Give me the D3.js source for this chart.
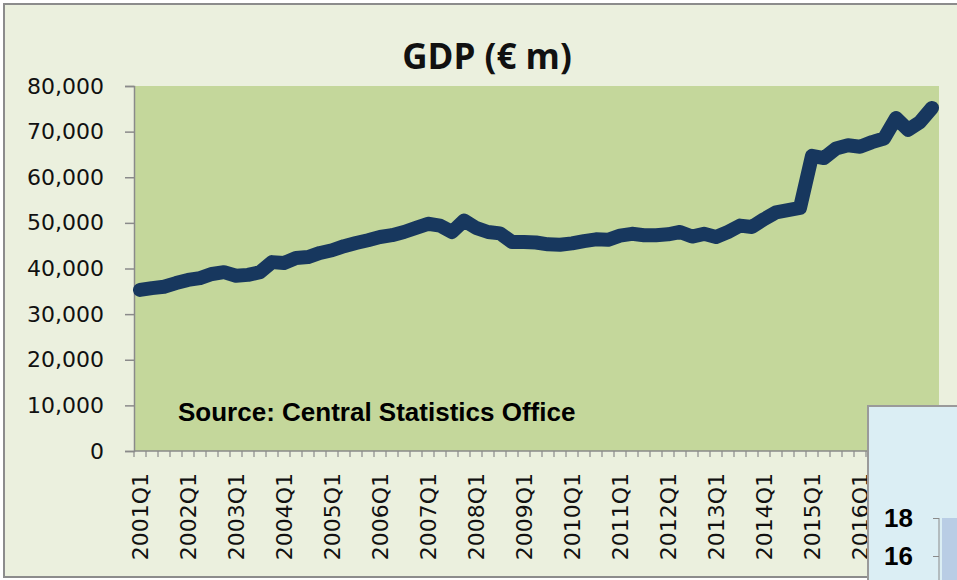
<!DOCTYPE html>
<html>
<head>
<meta charset="utf-8">
<script src="https://cdn.jsdelivr.net/npm/d3@7"></script>
<style>
  body { margin: 0; background: #ffffff; }
  svg { display: block; }
</style>
</head>
<body>
<script>
// quarterly GDP, € m, 2001Q1 .. 2017Q3
var years = d3.range(2001, 2018);
var quarters = [];
years.forEach(function(y) {
    [1, 2, 3, 4].forEach(function(q) {
        if (y < 2017 || q <= 3) quarters.push(y + "Q" + q);
    });
});

var gdp = [
    35300, 35700, 36000, 36800,
    37500, 37900, 38800, 39200,
    38400, 38600, 39200, 41400,
    41200, 42300, 42500, 43400,
    44000, 44900, 45600, 46200,
    46900, 47300, 48000, 48900,
    49800, 49400, 48000, 50500,
    48900, 48000, 47700, 45800,
    45800, 45700, 45300, 45200,
    45500, 46000, 46400, 46300,
    47200, 47600, 47300, 47300,
    47500, 48000, 47000, 47600,
    46900, 48000, 49400, 49100,
    50800, 52300, 52800, 53300,
    64700, 64200, 66300, 67000,
    66700, 67700, 68500, 73000,
    70400, 72100, 75200
];

var yTicks = [0, 10000, 20000, 30000, 40000, 50000, 60000, 70000, 80000];
var xLabels = quarters.filter(function(q) { return /Q1$/.test(q); });

// the neighbouring chart that overlaps the bottom right corner
var otherTicks = [16, 18];
var otherBars = [18];

var width = 957, height = 580;
var plot = { left: 134, top: 86, right: 938, bottom: 451 };

var svg = d3.select("body").append("svg")
    .attr("width", width).attr("height", height);

svg.append("rect")
    .attr("x", 4).attr("y", 4)
    .attr("width", width + 10).attr("height", 573)
    .attr("fill", "#ebf0de")
    .attr("stroke", "#8c8c8c").attr("stroke-width", 2);

svg.append("rect")
    .attr("x", plot.left).attr("y", plot.top)
    .attr("width", plot.right - plot.left + 1).attr("height", plot.bottom - plot.top)
    .attr("fill", "#c4d79b");

svg.append("text")
    .attr("x", 487).attr("y", 69)
    .attr("text-anchor", "middle")
    .style("font-family", "'Open Sans', sans-serif")
    .style("font-weight", "bold")
    .style("font-size", "35px")
    .attr("fill", "#111")
    .text("GDP (€ m)");

var x = d3.scaleBand().domain(quarters).range([plot.left, plot.right]);
var y = d3.scaleLinear().domain([0, 80000]).range([plot.bottom, plot.top]);

var yAxis = d3.axisLeft(y).tickValues(yTicks).tickSize(9).tickPadding(21)
    .tickFormat(d3.format(","));
var gy = svg.append("g").attr("transform", "translate(" + plot.left + ",0)").call(yAxis);
gy.select(".domain").attr("stroke", "#8a8a8a").attr("stroke-width", 1.5);
gy.selectAll(".tick line").attr("stroke", "#8a8a8a").attr("stroke-width", 1.5);
gy.selectAll("text")
    .style("font-family", "'DejaVu Sans', sans-serif")
    .style("font-size", "22px")
    .attr("fill", "#111");

// x axis: a tick at every quarter boundary, a label for every first quarter
var bounds = quarters.map(function(q) { return x(q); }).concat([plot.right]);
var gx = svg.append("g");
gx.append("line")
    .attr("x1", plot.left).attr("x2", plot.right)
    .attr("y1", plot.bottom).attr("y2", plot.bottom)
    .attr("stroke", "#8a8a8a").attr("stroke-width", 1.5);
gx.selectAll("line.tick").data(bounds).enter().append("line")
    .attr("class", "tick")
    .attr("x1", function(d) { return d; }).attr("x2", function(d) { return d; })
    .attr("y1", plot.bottom).attr("y2", plot.bottom + 6)
    .attr("stroke", "#8a8a8a").attr("stroke-width", 1.2);
gx.selectAll("text").data(xLabels).enter().append("text")
    .attr("transform", function(d) {
        return "translate(" + (x(d) + x.bandwidth() / 2) + "," + (plot.bottom + 22) + ") rotate(-90)";
    })
    .attr("dy", "0.36em")
    .attr("text-anchor", "end")
    .style("font-family", "'DejaVu Sans', sans-serif")
    .style("font-size", "22px")
    .attr("fill", "#111")
    .text(function(d) { return d; });

var line = d3.line()
    .x(function(d, i) { return x(quarters[i]) + x.bandwidth() / 2; })
    .y(function(d) { return y(d); });

svg.append("path")
    .datum(gdp)
    .attr("d", line)
    .attr("fill", "none")
    .attr("stroke", "#17375e")
    .attr("stroke-width", 14)
    .attr("stroke-linejoin", "round")
    .attr("stroke-linecap", "round");

svg.append("text")
    .attr("x", 178).attr("y", 421)
    .style("font-family", "'Liberation Sans', Arial, sans-serif")
    .style("font-weight", "bold")
    .style("font-size", "26px")
    .attr("fill", "#000")
    .text("Source: Central Statistics Office");

// overlapping chart, clipped by the page edge
var other = svg.append("g");
other.append("rect")
    .attr("x", 868).attr("y", 406)
    .attr("width", 120).attr("height", 200)
    .attr("fill", "#dbeef4")
    .attr("stroke", "#9a9a9a").attr("stroke-width", 2);
var oy = d3.scaleLinear().domain([16, 18]).range([556, 518]);
other.selectAll("rect.bar").data(otherBars).enter().append("rect")
    .attr("class", "bar")
    .attr("x", 942).attr("width", 40)
    .attr("y", function(d) { return oy(d); })
    .attr("height", function(d) { return 600 - oy(d); })
    .attr("fill", "#b9cde5");
var goy = other.append("g").attr("transform", "translate(939,0)")
    .call(d3.axisLeft(oy).tickValues(otherTicks).tickSize(6).tickPadding(20)
        .tickFormat(d3.format("d")));
goy.select(".domain").attr("d", "M0,518V600").attr("stroke", "#8a8a8a");
goy.selectAll(".tick line").attr("stroke", "#8a8a8a");
goy.selectAll("text")
    .style("font-family", "'Liberation Sans', Arial, sans-serif")
    .style("font-weight", "bold")
    .style("font-size", "26px")
    .attr("fill", "#000");
</script>
</body>
</html>
